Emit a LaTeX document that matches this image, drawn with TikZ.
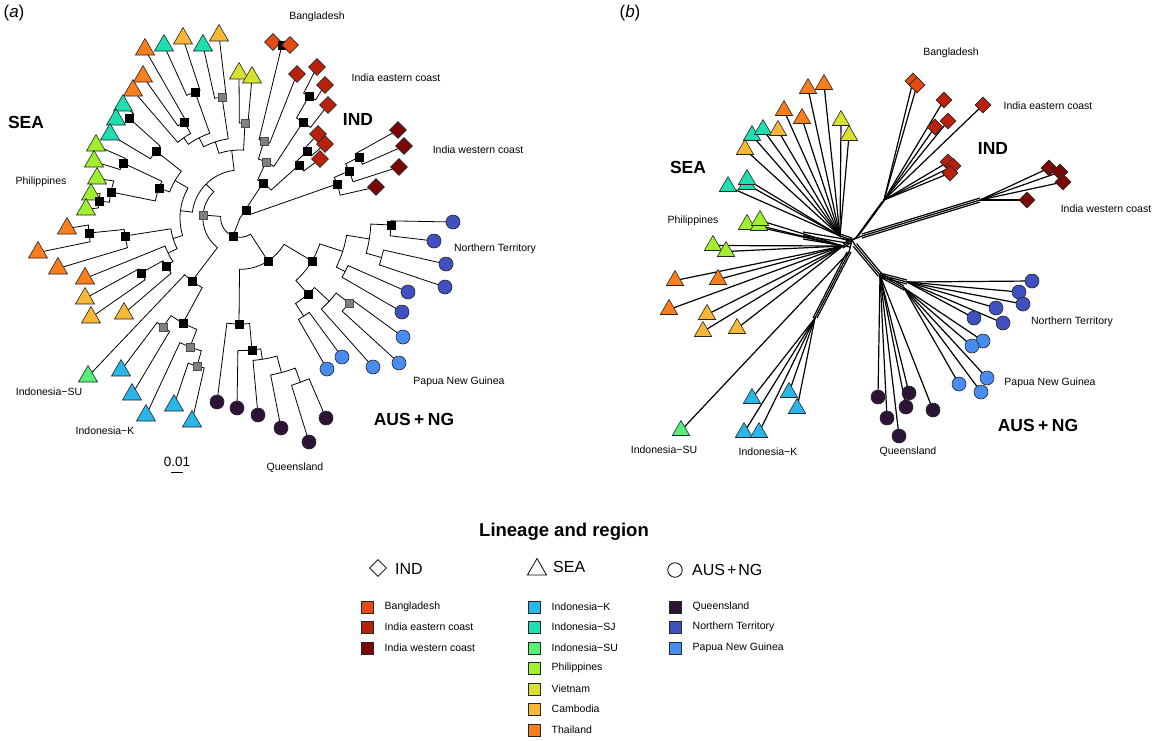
\documentclass[tikz,border=0pt]{standalone}
\usepackage{fontspec}
\setmainfont{Liberation Sans}
\usetikzlibrary{shapes.geometric,calc}
\pgfdeclarelayer{bg}
\pgfsetlayers{bg,main}
\definecolor{cBan}{RGB}{228,74,20}
\definecolor{cIE}{RGB}{187,33,10}
\definecolor{cIW}{RGB}{122,8,8}
\definecolor{cIK}{RGB}{40,183,232}
\definecolor{cISJ}{RGB}{30,222,178}
\definecolor{cISU}{RGB}{85,240,120}
\definecolor{cPhi}{RGB}{160,240,48}
\definecolor{cVie}{RGB}{218,224,48}
\definecolor{cCam}{RGB}{246,184,54}
\definecolor{cTha}{RGB}{250,125,30}
\definecolor{cQld}{RGB}{45,20,55}
\definecolor{cNT}{RGB}{64,80,192}
\definecolor{cPNG}{RGB}{72,140,240}
\definecolor{cGr}{RGB}{128,128,128}
\makeatletter
\newcommand\Pn[4]{%
  \node[#4] (#1) at (#2,-#3) {};%
  \pgfmathsetmacro\my@a{atan2(218-#3,#2-240)}%
  \pgfmathsetmacro\my@a{ifthenelse(\my@a<80,\my@a+360,\my@a)}%
  \pgfmathsetmacro\my@r{veclen(#2-240,218-#3)}%
  \expandafter\xdef\csname my@a@#1\endcsname{\my@a}%
  \expandafter\xdef\csname my@r@#1\endcsname{\my@r pt}%
}
\newcommand\Qn[3]{%
  \coordinate (#1) at ($(C)+(#2:#3pt)$);%
  \expandafter\xdef\csname my@a@#1\endcsname{#2}%
  \expandafter\xdef\csname my@r@#1\endcsname{#3pt}%
}
\newcommand\fe[2]{%
  \draw[br] (#1.center) -- ($(C)+(\csname my@a@#1\endcsname:\csname my@r@#2\endcsname)$)
    arc[start angle=\csname my@a@#1\endcsname, end angle=\csname my@a@#2\endcsname, radius=\csname my@r@#2\endcsname];%
}
\makeatother
\newcommand\litem[5]{%
  \node[lsq,fill=#4] (#1) at (#2,-#3) {};%
  \node[lab,anchor=west] (#1t) at (#2+17.5,-#3) {#5};%
}
\begin{document}
\begin{tikzpicture}[x=1pt,y=1pt,
  br/.style={line width=0.8pt},
  net/.style={line width=1.2pt},
  tipA/.style={regular polygon,regular polygon sides=3,minimum size=22pt,inner sep=0pt,draw=black!85,line width=0.6pt,yshift=-2.5pt},
  tipB/.style={tipA,minimum size=20pt},
  diaA/.style={diamond,minimum size=17pt,inner sep=0pt,draw=black!85,line width=0.6pt},
  diaB/.style={diaA,minimum size=16pt},
  cirA/.style={circle,minimum size=14pt,inner sep=0pt,draw=black!85,line width=0.6pt},
  bsq/.style={rectangle,minimum size=8.5pt,inner sep=0pt,fill=black,draw=black,line width=0.5pt},
  gsq/.style={bsq,fill=cGr,draw=black!70},
  lab/.style={font=\fontsize{10.5}{12}\selectfont,inner sep=0pt},
  big/.style={font=\fontsize{17.5}{20}\selectfont\bfseries,inner sep=0pt},
  lsq/.style={rectangle,minimum size=12pt,inner sep=0pt,draw=black!85,line width=0.6pt},
]
\useasboundingbox (0,0) rectangle (1152,-740);
\begin{pgfonlayer}{bg}
\fill[white] (0,0) rectangle (1152,-740);
\end{pgfonlayer}
\coordinate (C) at (240,-218);
% ================= panel (a) tips =================
\Pn{db1}{273}{42}{diaA,fill=cBan}
\Pn{nBd}{282}{45}{bsq}
\Pn{db2}{290}{45}{diaA,fill=cBan}
\Pn{de1}{297}{74}{diaA,fill=cIE}
\Pn{de2}{317}{67}{diaA,fill=cIE}
\Pn{de3}{325}{85}{diaA,fill=cIE}
\Pn{de4}{328}{105}{diaA,fill=cIE}
\Pn{de5}{318}{134}{diaA,fill=cIE}
\Pn{de6}{325}{144}{diaA,fill=cIE}
\Pn{de7}{320}{159}{diaA,fill=cIE}
\Pn{dw1}{398}{130}{diaA,fill=cIW}
\Pn{dw2}{404}{146}{diaA,fill=cIW}
\Pn{dw3}{399}{167}{diaA,fill=cIW}
\Pn{dw4}{376}{187}{diaA,fill=cIW}
\Pn{q1}{217}{402}{cirA,fill=cQld}
\Pn{q2}{237}{408}{cirA,fill=cQld}
\Pn{q3}{258}{415}{cirA,fill=cQld}
\Pn{q4}{281}{428}{cirA,fill=cQld}
\Pn{q5}{309}{442}{cirA,fill=cQld}
\Pn{q6}{326}{418}{cirA,fill=cQld}
\Pn{pg1}{327}{369}{cirA,fill=cPNG}
\Pn{pg2}{342}{357}{cirA,fill=cPNG}
\Pn{pg3}{373}{367}{cirA,fill=cPNG}
\Pn{pg4}{399}{363}{cirA,fill=cPNG}
\Pn{pg5}{403}{337}{cirA,fill=cPNG}
\Pn{nt1}{453}{222}{cirA,fill=cNT}
\Pn{nt2}{434}{241}{cirA,fill=cNT}
\Pn{nt3}{446}{264}{cirA,fill=cNT}
\Pn{nt4}{445}{287}{cirA,fill=cNT}
\Pn{nt5}{408}{292}{cirA,fill=cNT}
\Pn{nt6}{402}{312}{cirA,fill=cNT}
\Pn{t1}{145}{47}{tipA,fill=cTha}
\Pn{t2}{164}{43}{tipA,fill=cISJ}
\Pn{t3}{183}{36}{tipA,fill=cCam}
\Pn{t4}{203}{43}{tipA,fill=cISJ}
\Pn{t5}{219}{33}{tipA,fill=cCam}
\Pn{v1}{239}{71}{tipA,fill=cVie}
\Pn{v2}{252}{75}{tipA,fill=cVie}
\Pn{t6}{143}{74}{tipA,fill=cTha}
\Pn{t7}{133}{88}{tipA,fill=cTha}
\Pn{t8}{123}{103}{tipA,fill=cISJ}
\Pn{t9}{116}{117}{tipA,fill=cISJ}
\Pn{t10}{110}{132}{tipA,fill=cISJ}
\Pn{p1}{96}{143}{tipA,fill=cPhi}
\Pn{p2}{94}{159}{tipA,fill=cPhi}
\Pn{p3}{97}{176}{tipA,fill=cPhi}
\Pn{p4}{91}{192}{tipA,fill=cPhi}
\Pn{p5}{86}{207}{tipA,fill=cPhi}
\Pn{t11}{67}{226}{tipA,fill=cTha}
\Pn{t12}{38}{250}{tipA,fill=cTha}
\Pn{t13}{58}{266}{tipA,fill=cTha}
\Pn{t14}{85}{276}{tipA,fill=cTha}
\Pn{c1}{85}{296}{tipA,fill=cCam}
\Pn{c2}{91}{315}{tipA,fill=cCam}
\Pn{c3}{124}{311}{tipA,fill=cCam}
\Pn{su}{88}{374}{tipA,fill=cISU}
\Pn{k1}{121}{368}{tipA,fill=cIK}
\Pn{k2}{132}{392}{tipA,fill=cIK}
\Pn{k3}{146}{413}{tipA,fill=cIK}
\Pn{k4}{174}{403}{tipA,fill=cIK}
\Pn{k5}{192}{419}{tipA,fill=cIK}
% ================= panel (a) internal nodes =================
\Pn{nI0}{246}{210}{bsq}
\Pn{nI1}{263}{183}{bsq}
\Pn{ig1}{266}{162}{gsq}
\Pn{ig2}{264}{141}{gsq}
\Pn{nE1}{303}{122}{bsq}
\Pn{nE2}{309}{96}{bsq}
\Pn{nE3}{299}{165}{bsq}
\Pn{nE4}{307}{151}{bsq}
\Pn{nW1}{337}{184}{bsq}
\Pn{nW2}{349}{171}{bsq}
\Pn{nW3}{359}{157}{bsq}
\Pn{nA}{233}{236}{bsq}
\Pn{nAUS}{268}{261}{bsq}
\Pn{nQ}{239}{324}{bsq}
\Pn{nQ2}{252}{350}{bsq}
\Qn{nQ3}{279}{143}
\Qn{nQ4}{285}{160}
\Qn{nQ5}{290.2}{175}
\Pn{nB1}{312}{261}{bsq}
\Pn{nP0}{308}{294}{bsq}
\Qn{nP2}{303}{117}
\Qn{nP1}{317}{122}
\Pn{gP}{349}{303}{gsq}
\Qn{nNTe}{342}{108}
\Qn{nNTc}{350.8}{131}
\Qn{nNTd}{333}{118}
\Qn{nNTb}{344.4}{147}
\Pn{nNTa}{391}{225}{bsq}
\Pn{nS}{203}{215}{gsq}
\Pn{s15}{192}{281}{bsq}
\Pn{s16}{183}{323}{bsq}
\Pn{s17}{163}{327}{gsq}
\Pn{s18}{190}{347}{gsq}
\Pn{s19}{197}{366}{gsq}
\Qn{X}{135}{48}
\Qn{Y4}{97}{68}
\Qn{Y3}{108}{80}
\Qn{Y2}{117}{90}
\Qn{Y1}{125}{98}
\Qn{W2}{173}{60}
\Qn{W1}{150}{75}
\Qn{Z2}{197}{70}
\Qn{Z1}{206}{80}
\Pn{s1}{195}{92}{bsq}
\Pn{s2}{222}{97}{gsq}
\Pn{s3}{184}{122}{bsq}
\Pn{s4}{245}{123}{gsq}
\Pn{s5}{129}{118}{bsq}
\Pn{s6}{156}{151}{bsq}
\Pn{s7}{123}{163}{bsq}
\Pn{s8}{159}{188}{bsq}
\Pn{s9}{111}{192}{bsq}
\Pn{s10}{99}{201}{bsq}
\Pn{s11}{89}{233}{bsq}
\Pn{s12}{125}{236}{bsq}
\Pn{s13}{166}{266}{bsq}
\Pn{s14}{141}{273}{bsq}
% ================= panel (a) branches =================
\begin{pgfonlayer}{bg}
\draw[br] (C) -- (nI0.center);
\draw[br] (C) -- (nA.center);
\fe{nI1}{nI0}\fe{nW1}{nI0}
\fe{ig1}{nI1}\fe{nE3}{nI1}
\fe{ig2}{ig1}\fe{nE1}{ig1}
\fe{nBd}{ig2}\fe{de1}{ig2}
\fe{db1}{nBd}\fe{db2}{nBd}
\fe{nE2}{nE1}\fe{de4}{nE1}
\fe{de2}{nE2}\fe{de3}{nE2}
\fe{nE4}{nE3}\fe{de7}{nE3}
\fe{de5}{nE4}\fe{de6}{nE4}
\fe{nW2}{nW1}\fe{dw4}{nW1}
\fe{nW3}{nW2}\fe{dw3}{nW2}
\fe{dw1}{nW3}\fe{dw2}{nW3}
\fe{nS}{nA}\fe{nAUS}{nA}
\fe{nQ}{nAUS}\fe{nB1}{nAUS}
\fe{q1}{nQ}\fe{nQ2}{nQ}
\fe{q2}{nQ2}\fe{nQ3}{nQ2}
\fe{q3}{nQ3}\fe{nQ4}{nQ3}
\fe{q4}{nQ4}\fe{nQ5}{nQ4}
\fe{q5}{nQ5}\fe{q6}{nQ5}
\fe{nP0}{nB1}\fe{nNTe}{nB1}
\fe{nP2}{nP0}\fe{nP1}{nP0}
\fe{pg1}{nP2}\fe{pg2}{nP2}
\fe{pg3}{nP1}\fe{gP}{nP1}
\fe{pg4}{gP}\fe{pg5}{gP}
\fe{nNTc}{nNTe}\fe{nNTd}{nNTe}
\fe{nNTa}{nNTc}\fe{nNTb}{nNTc}
\fe{nt1}{nNTa}\fe{nt2}{nNTa}
\fe{nt3}{nNTb}\fe{nt4}{nNTb}
\fe{nt5}{nNTd}\fe{nt6}{nNTd}
\fe{X}{nS}\fe{s15}{nS}
\fe{su}{s15}\fe{s16}{s15}
\fe{s17}{s16}\fe{s18}{s16}
\fe{k1}{s17}\fe{k2}{s17}
\fe{k3}{s18}\fe{s19}{s18}
\fe{k4}{s19}\fe{k5}{s19}
\fe{Y4}{X}\fe{W2}{X}
\fe{s4}{Y4}\fe{Y3}{Y4}
\fe{v1}{s4}\fe{v2}{s4}
\fe{s2}{Y3}\fe{Y2}{Y3}
\fe{t4}{s2}\fe{t5}{s2}
\fe{s1}{Y2}\fe{Y1}{Y2}
\fe{t2}{s1}\fe{t3}{s1}
\fe{s3}{Y1}\fe{t7}{Y1}
\fe{t1}{s3}\fe{t6}{s3}
\fe{W1}{W2}\fe{Z2}{W2}
\fe{s6}{W1}\fe{s8}{W1}
\fe{s5}{s6}\fe{t10}{s6}
\fe{t8}{s5}\fe{t9}{s5}
\fe{s7}{s8}\fe{s9}{s8}
\fe{p1}{s7}\fe{p2}{s7}
\fe{s10}{s9}\fe{p3}{s9}
\fe{p4}{s10}\fe{p5}{s10}
\fe{s12}{Z2}\fe{Z1}{Z2}
\fe{s11}{s12}\fe{t13}{s12}
\fe{t11}{s11}\fe{t12}{s11}
\fe{t14}{Z1}\fe{s13}{Z1}
\fe{s14}{s13}\fe{c3}{s13}
\fe{c1}{s14}\fe{c2}{s14}
\end{pgfonlayer}
% ================= panel (a) labels =================
\node[font=\fontsize{17}{20}\selectfont,inner sep=0pt] (lA) at (14,-13) {(\textit{a})};
\node[lab] (aBan) at (317,-17) {Bangladesh};
\node[lab] (aIE) at (396,-78) {India eastern coast};
\node[big] (aIND) at (358,-119) {IND};
\node[lab] (aIW) at (478,-150) {India western coast};
\node[big] (aSEA) at (26,-122) {SEA};
\node[lab] (aPhi) at (41,-182) {Philippines};
\node[lab] (aNT) at (495,-249) {Northern Territory};
\node[lab] (aPNG) at (459,-382) {Papua New Guinea};
\node[big] (aAUS) at (414,-419) {AUS\kern3.5pt+\kern3.5pt NG};
\node[lab] (aQld) at (295,-468) {Queensland};
\node[lab] (aSU) at (49,-392) {Indonesia−SU};
\node[lab] (aK) at (105,-431) {Indonesia−K};
\node[font=\fontsize{13.5}{15}\selectfont,inner sep=0pt] (aSc) at (177,-462) {0.01};
\coordinate (sbL) at (171,-472);
\coordinate (sbR) at (183,-472);
\draw[line width=0.8pt] (sbL) -- (sbR);
% ================= panel (b) tips =================
\node[tipB,fill=cTha] (bt1) at (808,-86) {};
\node[tipB,fill=cTha] (bt2) at (824,-82) {};
\node[tipB,fill=cTha] (bt3) at (784,-108) {};
\node[tipB,fill=cTha] (bt4) at (802,-116) {};
\node[tipB,fill=cVie] (bv1) at (841,-118) {};
\node[tipB,fill=cVie] (bv2) at (849,-133) {};
\node[tipB,fill=cISJ] (bj1) at (752,-133) {};
\node[tipB,fill=cISJ] (bj2) at (763,-127) {};
\node[tipB,fill=cCam] (bc1) at (778,-128) {};
\node[tipB,fill=cCam] (bc2) at (745,-147) {};
\node[tipB,fill=cISJ] (bj3) at (728,-184) {};
\node[tipB,fill=cISJ] (bj4) at (747,-182) {};
\node[tipB,fill=cISJ] (bj5) at (747,-177) {};
\node[tipB,fill=cPhi] (bp1) at (747,-222) {};
\node[tipB,fill=cPhi] (bp5) at (759,-223) {};
\node[tipB,fill=cPhi] (bp2) at (760,-218) {};
\node[tipB,fill=cPhi] (bp3) at (713,-243) {};
\node[tipB,fill=cPhi] (bp4) at (726,-249) {};
\node[tipB,fill=cTha] (bo1) at (675,-278) {};
\node[tipB,fill=cTha] (bo2) at (718,-277) {};
\node[tipB,fill=cTha] (bo3) at (669,-307) {};
\node[tipB,fill=cCam] (bc3) at (707,-312) {};
\node[tipB,fill=cCam] (bc4) at (703,-329) {};
\node[tipB,fill=cCam] (bc5) at (737,-326) {};
\node[tipB,fill=cISU] (bsu) at (681,-428) {};
\node[tipB,fill=cIK] (bk1) at (752,-396) {};
\node[tipB,fill=cIK] (bk2) at (789,-390) {};
\node[tipB,fill=cIK] (bk3) at (797,-406) {};
\node[tipB,fill=cIK] (bk4) at (744,-430) {};
\node[tipB,fill=cIK] (bk5) at (759,-430) {};
\node[diaB,fill=cBan] (bb1) at (913,-81) {};
\node[diaB,fill=cBan] (bb2) at (917,-85) {};
\node[diaB,fill=cIE] (be1) at (944,-100) {};
\node[diaB,fill=cIE] (be2) at (983,-105) {};
\node[diaB,fill=cIE] (be3) at (948,-121) {};
\node[diaB,fill=cIE] (be4) at (935,-127) {};
\node[diaB,fill=cIE] (be5) at (948,-162) {};
\node[diaB,fill=cIE] (be6) at (953,-166) {};
\node[diaB,fill=cIE] (be7) at (950,-173) {};
\node[diaB,fill=cIW] (bw1) at (1049,-168) {};
\node[diaB,fill=cIW] (bw2) at (1060,-172) {};
\node[diaB,fill=cIW] (bw3) at (1063,-182) {};
\node[diaB,fill=cIW] (bw4) at (1027,-200) {};
\node[cirA,fill=cNT] (bn1) at (1032,-281) {};
\node[cirA,fill=cNT] (bn2) at (1019,-292) {};
\node[cirA,fill=cNT] (bn3) at (1023,-304) {};
\node[cirA,fill=cNT] (bn4) at (996,-308) {};
\node[cirA,fill=cNT] (bn5) at (1003,-323) {};
\node[cirA,fill=cNT] (bn6) at (974,-318) {};
\node[cirA,fill=cPNG] (bg1) at (983,-341) {};
\node[cirA,fill=cPNG] (bg2) at (972,-346) {};
\node[cirA,fill=cPNG] (bg3) at (987,-378) {};
\node[cirA,fill=cPNG] (bg4) at (959,-384) {};
\node[cirA,fill=cPNG] (bg5) at (981,-392) {};
\node[cirA,fill=cQld] (bq1) at (878,-397) {};
\node[cirA,fill=cQld] (bq2) at (909,-393) {};
\node[cirA,fill=cQld] (bq3) at (887,-418) {};
\node[cirA,fill=cQld] (bq4) at (906,-407) {};
\node[cirA,fill=cQld] (bq5) at (933,-410) {};
\node[cirA,fill=cQld] (bq6) at (899,-436) {};
% ================= panel (b) network =================
\coordinate (O) at (852,-240);
\coordinate (hT) at (840,-236);
\coordinate (hL) at (843,-246);
\coordinate (hK) at (815,-318);
\coordinate (kE) at (849,-252);
\coordinate (hE) at (884,-200);
\coordinate (eE) at (857,-237);
\coordinate (hW) at (980,-200);
\coordinate (eW) at (862,-236);
\coordinate (aS) at (855,-245);
\coordinate (hA) at (880,-275);
\coordinate (hN) at (907,-282);
\coordinate (hP) at (904,-288);
\coordinate (ld1) at (803,-232);
\coordinate (ld2) at (850,-240);
\begin{pgfonlayer}{bg}
\foreach \t in {bt1,bt2,bt3,bt4,bv1,bv2,bj1,bj2,bc1,bc2,bj3,bj4,bj5} \draw[net] (\t.center) -- (hT);
\foreach \t in {bp1,bp2,bp5,bp3,bp4,bo1,bo2,bo3,bc3,bc4,bc5} \draw[net] (\t.center) -- (hL);
\foreach \t in {bk1,bk2,bk3,bk4,bk5} \draw[net] (\t.center) -- (hK);
\draw[net] (bsu.center) -- (kE);
\foreach \t in {bb1,bb2,be1,be2,be3,be4,be5,be6,be7} \draw[net] (\t.center) -- (hE);
\foreach \t in {bw1,bw2,bw3,bw4} \draw[net] (\t.center) -- (hW);
\foreach \t in {bq1,bq2,bq3,bq4,bq5,bq6} \draw[net] (\t.center) -- (hA);
\foreach \t in {bn1,bn2,bn3,bn4,bn5,bn6} \draw[net] (\t.center) -- (hN);
\foreach \t in {bg1,bg2,bg3,bg4,bg5} \draw[net] (\t.center) -- (hP);
\foreach \k in {-2,0,2} {
  \draw[net] ([shift={(0,\k)}]hT) -- ([shift={(0,\k)}]O);
  \draw[net] ([shift={(0,\k)}]hL) -- ([shift={(0,\k)}]O);
  \draw[net] ([shift={(\k,0)}]hK) -- ([shift={(\k,0)}]kE);
  \draw[net] ([shift={(0.8*\k,0.7*\k)}]hE) -- ([shift={(0.8*\k,0.7*\k)}]eE);
  \draw[net] ([shift={(0,\k)}]hW) -- ([shift={(0,\k)}]eW);
  \draw[net] ([shift={(0.8*\k,0.7*\k)}]aS) -- ([shift={(0.8*\k,0.7*\k)}]hA);
  \draw[net] ([shift={(0,\k)}]hA) -- ([shift={(0,\k)}]hN);
  \draw[net] ([shift={(0,\k)}]hA) -- ([shift={(0,\k)}]hP);
}
\foreach \k in {0,3.5,7} \draw[net] ([shift={(0,-\k)}]ld1) -- ([shift={(0,-\k)}]ld2);
\draw[net] (O) -- (eE); \draw[net] (O) -- (eW); \draw[net] (O) -- (aS); \draw[net] (kE) -- (O);
\end{pgfonlayer}
% ================= panel (b) labels =================
\node[font=\fontsize{17}{20}\selectfont,inner sep=0pt] (lB) at (630,-13) {(\textit{b})};
\node[big] (bSEA) at (688,-167) {SEA};
\node[lab] (bPhi) at (693,-221) {Philippines};
\node[lab] (bBan) at (951,-53) {Bangladesh};
\node[lab] (bIE) at (1048,-106) {India eastern coast};
\node[big] (bIND) at (993,-148) {IND};
\node[lab] (bIW) at (1106,-209) {India western coast};
\node[lab] (bNT) at (1072,-322) {Northern Territory};
\node[lab] (bPNG) at (1050,-383) {Papua New Guinea};
\node[big] (bAUS) at (1038,-425) {AUS\kern3.5pt+\kern3.5pt NG};
\node[lab] (bQld) at (908,-452) {Queensland};
\node[lab] (bSU) at (664,-450) {Indonesia−SU};
\node[lab] (bK) at (768,-452) {Indonesia−K};
% ================= legend =================
\node[font=\fontsize{18.5}{21}\selectfont\bfseries,inner sep=0pt] (lgT) at (564,-532) {Lineage and region};
\node[diamond,draw,minimum size=17pt,inner sep=0pt,line width=0.8pt] (lgD) at (378,-568) {};
\node[anchor=west,inner sep=0pt,font=\fontsize{16}{18}\selectfont] (lgDt) at (395,-569) {IND};
\node[regular polygon,regular polygon sides=3,draw,minimum size=22pt,inner sep=0pt,line width=0.8pt,yshift=-2.5pt] (lgA) at (537,-567) {};
\node[anchor=west,inner sep=0pt,font=\fontsize{16}{18}\selectfont] (lgAt) at (553,-567) {SEA};
\node[circle,draw,minimum size=14.5pt,inner sep=0pt,line width=0.8pt] (lgC) at (675,-570) {};
\node[anchor=west,inner sep=0pt,font=\fontsize{16}{18}\selectfont] (lgCt) at (692,-570) {AUS\kern2pt+\kern2pt NG};
\litem{m1}{367}{607}{cBan}{Bangladesh}
\litem{m2}{367}{627}{cIE}{India eastern coast}
\litem{m3}{367}{648}{cIW}{India western coast}
\litem{m4}{534}{607}{cIK}{Indonesia−K}
\litem{m5}{534}{627}{cISJ}{Indonesia−SJ}
\litem{m6}{534}{648}{cISU}{Indonesia−SU}
\litem{m7}{534}{668}{cPhi}{Philippines}
\litem{m8}{534}{689}{cVie}{Vietnam}
\litem{m9}{534}{709}{cCam}{Cambodia}
\litem{m10}{534}{730}{cTha}{Thailand}
\litem{m11}{675}{607}{cQld}{Queensland}
\litem{m12}{675}{627}{cNT}{Northern Territory}
\litem{m13}{675}{648}{cPNG}{Papua New Guinea}
\end{tikzpicture}
\end{document}
